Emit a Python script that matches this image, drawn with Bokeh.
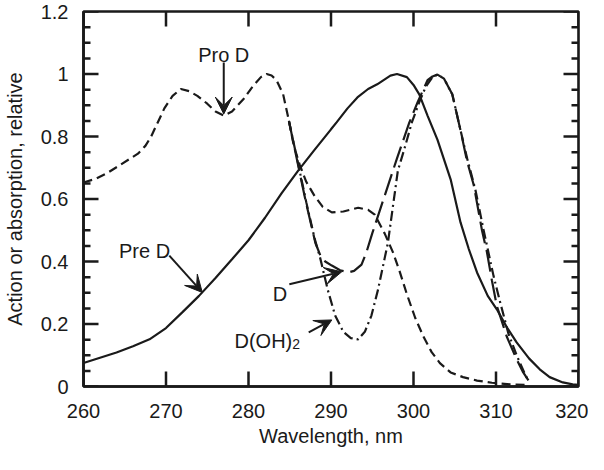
import math
from bokeh.plotting import figure
from bokeh.models import Range1d, FixedTicker, Label, Arrow, VeeHead
from bokeh.embed import file_html
from bokeh.resources import INLINE

# ---------------- data ----------------
pre_d_x = [260, 262, 264, 266, 268, 270, 272, 274, 276, 278, 280, 282, 284, 286, 288,
           290, 290.7, 292, 293.2, 294.5, 295.6, 297.2, 298, 299.2, 300, 300.7, 301.7,
           302.9, 304.5, 305.7, 306.7, 307.7, 309, 310.1, 311.3, 312.5, 314, 315.3,
           316.5, 318.1, 319.3, 320]
pre_d_y = [0.075, 0.092, 0.109, 0.129, 0.151, 0.187, 0.238, 0.29, 0.347, 0.407, 0.468,
           0.54, 0.618, 0.69, 0.757, 0.823, 0.846, 0.89, 0.925, 0.952, 0.967, 0.995, 1.0,
           0.99, 0.965, 0.935, 0.867, 0.79, 0.663, 0.525, 0.44, 0.365, 0.29, 0.247, 0.19,
           0.141, 0.09, 0.055, 0.03, 0.013, 0.007, 0.005]

pro_d_x = [260, 261.5, 263, 264.5, 266.6, 267.5, 268.2, 269, 269.8, 270.8, 271.8, 272.8,
           273.8, 275, 276, 277, 278, 279.4, 280.5, 281.5, 282.2, 282.8, 283.4, 284.2,
           284.9, 285.5, 286.2, 287, 288, 289, 290.1, 291.5, 293.3, 294.5, 295.3, 296.5,
           297.5, 298.3, 299.2, 300.2, 301.2, 302.2, 303.2, 304.5, 306, 307.7, 309.5,
           311.7, 314]
pro_d_y = [0.653, 0.665, 0.685, 0.71, 0.745, 0.77, 0.80, 0.845, 0.89, 0.93, 0.952, 0.945,
           0.93, 0.905, 0.88, 0.867, 0.88, 0.92, 0.96, 0.99, 1.0, 0.995, 0.98, 0.935,
           0.85, 0.77, 0.71, 0.655, 0.61, 0.575, 0.557, 0.56, 0.572, 0.565, 0.55, 0.49,
           0.43, 0.37, 0.295, 0.22, 0.16, 0.11, 0.075, 0.045, 0.03, 0.019, 0.012,
           0.007, 0.005]

d_x = [284.9, 286, 287, 287.8, 288.1, 288.7, 289.3, 290.1, 291.1, 292.1, 292.8, 293.7,
       294.3, 295, 296, 297, 298, 299.5, 300.5, 301.7, 302.3, 302.9, 303.7, 304.7, 305.7,
       306.5, 307.3, 308.3, 308.9, 309.5, 310.1, 311.3, 312.5, 313.3, 314.1]
d_y = [0.85, 0.71, 0.585, 0.495, 0.46, 0.42, 0.4, 0.387, 0.372, 0.365, 0.37, 0.39,
       0.43, 0.49, 0.57, 0.65, 0.73, 0.845, 0.91, 0.98, 0.992, 0.998, 0.985, 0.935,
       0.82, 0.72, 0.645, 0.5, 0.43, 0.34, 0.258, 0.16, 0.087, 0.045, 0.013]

doh_x = [284.9, 286, 287, 288, 288.7, 289.6, 290.5, 291.5, 292.4, 293.3, 294.1, 294.9,
         295.7, 296.5, 296.9, 298.1, 299, 299.8, 300.7, 301.5, 302.3, 302.9, 303.7,
         304.7, 305.7, 306.5, 307.5, 308.5, 309.7, 310.5, 311.5, 312.5, 313.5, 314]
doh_y = [0.85, 0.715, 0.59, 0.475, 0.41, 0.31, 0.227, 0.175, 0.155, 0.151, 0.175, 0.227,
         0.31, 0.41, 0.46, 0.69, 0.77, 0.845, 0.91, 0.96, 0.99, 0.998, 0.985, 0.935,
         0.82, 0.73, 0.63, 0.5, 0.354, 0.27, 0.17, 0.1, 0.04, 0.015]

x_min, x_max = 260, 320
y_min, y_max = 0, 1.2
x_ticks = [260, 270, 280, 290, 300, 310, 320]
x_tick_labels = ["260", "270", "280", "290", "300", "310", "320"]
y_ticks = [0, 0.2, 0.4, 0.6, 0.8, 1.0, 1.2]
y_tick_labels = ["0", "0.2", "0.4", "0.6", "0.8", "1", "1.2"]
y_minor = [round(i * 0.05, 2) for i in range(25) if i % 4 != 0]

# annotations: (text, x, y) and arrows (x_start, y_start, x_end, y_end) in data units
pro_label = ("Pro D", 277.0, 1.06)
pro_arrow = (277.0, 1.037, 277.0, 0.872)
pre_label = ("Pre D", 267.4, 0.435)
pre_arrow = (270.4, 0.419, 274.4, 0.301)
d_label = ("D", 283.8, 0.295)
d_arrow = (284.95, 0.327, 291.3, 0.367)
doh_label = ("D(OH)", 278.3, 0.147)
doh_sub = ("2", 285.3, 0.135)
doh_arrow = (287.3, 0.173, 290.1, 0.213)

FONT = "Liberation Sans"
INK = "#1a1a1a"

p = figure(width=588, height=454, x_range=Range1d(x_min, x_max), y_range=Range1d(y_min, y_max),
           output_backend="svg", toolbar_location=None,
           min_border_left=77, min_border_right=10, min_border_top=11, min_border_bottom=68,
           background_fill_color="white", border_fill_color="white")
p.grid.visible = False
p.outline_line_color = INK
p.outline_line_width = 2.6

LW = 2.2
p.line(pro_d_x, pro_d_y, line_color=INK, line_width=LW, line_dash="9 5")
p.line(pre_d_x, pre_d_y, line_color=INK, line_width=LW)
p.line(d_x, d_y, line_color=INK, line_width=LW, line_dash="22 7")
p.line(doh_x, doh_y, line_color=INK, line_width=LW, line_dash="10 4 2 4")

# inward ticks on all four sides: centred dash markers, clipped by the frame
TW = 2.5
for yy in (y_min, y_max):
    p.scatter(x_ticks, [yy] * len(x_ticks), marker="dash", angle=math.pi / 2, size=30,
              line_color=INK, line_width=TW)
for xx in (x_min, x_max):
    p.scatter([xx] * len(y_ticks), y_ticks, marker="dash", size=30,
              line_color=INK, line_width=TW)
    p.scatter([xx] * len(y_minor), y_minor, marker="dash", size=14,
              line_color=INK, line_width=TW)


def style(ax):
    ax.axis_line_width = 2.6
    ax.axis_line_color = INK
    ax.major_tick_in = 0
    ax.major_tick_out = 0
    ax.minor_tick_in = 0
    ax.minor_tick_out = 0
    ax.major_tick_line_color = None
    ax.minor_tick_line_color = None
    ax.major_label_text_font = FONT
    ax.major_label_text_font_size = "20px"
    ax.major_label_text_color = INK
    ax.axis_label_text_font = FONT
    ax.axis_label_text_font_size = "20px"
    ax.axis_label_text_font_style = "normal"
    ax.axis_label_text_color = INK


xa = p.xaxis[0]
xa.ticker = FixedTicker(ticks=x_ticks, minor_ticks=[])
xa.major_label_overrides = dict(zip(x_ticks, x_tick_labels))
style(xa)
xa.major_label_standoff = 17
xa.axis_label = "Wavelength, nm"
xa.axis_label_standoff = 4

ya = p.yaxis[0]
ya.ticker = FixedTicker(ticks=y_ticks, minor_ticks=[])
ya.major_label_overrides = dict(zip(y_ticks, y_tick_labels))
style(ya)
ya.major_label_standoff = 15
ya.axis_label = "Action or absorption, relative"
ya.axis_label_standoff = 12

for txt, x, y in [pro_label, pre_label, d_label]:
    p.add_layout(Label(x=x, y=y, text=txt, text_font=FONT, text_font_size="20px",
                       text_color=INK, text_align="center", text_baseline="alphabetic"))
p.add_layout(Label(x=doh_label[1], y=doh_label[2], text=doh_label[0], text_font=FONT,
                   text_font_size="20px", text_color=INK, text_align="left",
                   text_baseline="alphabetic"))
p.add_layout(Label(x=doh_sub[1], y=doh_sub[2], text=doh_sub[0], text_font=FONT,
                   text_font_size="14px", text_color=INK, text_align="left",
                   text_baseline="alphabetic"))

for xs, ys, xe, ye in [pro_arrow, pre_arrow, d_arrow, doh_arrow]:
    p.add_layout(Arrow(end=VeeHead(size=17, fill_color=INK, line_color=INK, line_width=1),
                       x_start=xs, y_start=ys, x_end=xe, y_end=ye,
                       line_color=INK, line_width=2))

open("out.html", "w").write(file_html(p, INLINE))
